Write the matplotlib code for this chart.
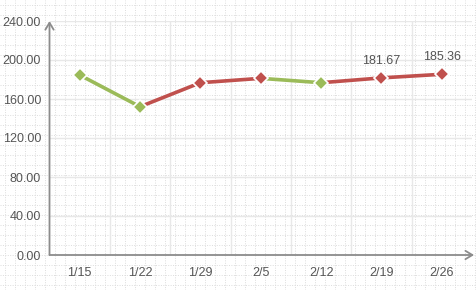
import numpy as np
import matplotlib.pyplot as plt

# datos
fechas = ["1/15", "1/22", "1/29", "2/5", "2/12", "2/19", "2/26"]
valores = [184.6, 152.1, 176.7, 181.2, 176.7, 181.67, 185.36]
etiquetas = {5: "181.67", 6: "185.36"}
yticks = [0, 40, 80, 120, 160, 200, 240]

verde = "#9BBB59"
rojo = "#C0504D"
gris_txt = "#555555"
gris_eje = "#8c8c8c"

fig = plt.figure(figsize=(4.76, 2.90), dpi=100)

# fondo con cuadricula punteada
fondo = fig.add_axes([0, 0, 1, 1], zorder=0)
fondo.set_xlim(0, 476)
fondo.set_ylim(290, 0)
fondo.axis("off")
for p in np.arange(5, 476, 10):
    fondo.axvline(p, color="#dcdcdc", lw=0.7, ls=(0, (1, 1.5)))
for p in np.arange(5, 290, 10):
    fondo.axhline(p, color="#dcdcdc", lw=0.7, ls=(0, (1, 1.5)))

ax = fig.add_axes([49.5 / 476, 35 / 290, (472 - 49.5) / 476, 234 / 290], zorder=1)
ax.patch.set_alpha(0)

x = np.arange(len(fechas))
ax.set_xlim(-0.5, len(fechas) - 0.5)
ax.set_ylim(0, 240)

# lineas de cuadricula solidas
for yt in yticks:
    ax.axhline(yt, color="#e8e8e8", lw=1, zorder=0)
for b in np.arange(0.5, len(fechas) - 0.5, 1):
    ax.axvline(b, color="#e8e8e8", lw=1, zorder=0)

# segmentos coloreados segun suba o baje
colores_pt = [verde]
for i in range(len(valores) - 1):
    c = rojo if valores[i + 1] >= valores[i] else verde
    colores_pt.append(c)
    ax.plot(x[i:i + 2], valores[i:i + 2], color=c, lw=2.6, solid_capstyle="butt", zorder=2)

for i in range(len(valores)):
    ax.plot(x[i], valores[i], marker="D", ms=6.8, color=colores_pt[i],
            mec="white", mew=1.2, zorder=3)

for i, t in etiquetas.items():
    ax.annotate(t, (x[i], valores[i]), xytext=(0, 8), textcoords="offset points",
                ha="center", va="bottom", fontsize=9, color=gris_txt,
                family="Liberation Sans")

ax.set_xticks(x)
ax.set_xticklabels(fechas)
ax.set_yticks(yticks)
ax.set_yticklabels([f"{v:.2f}" for v in yticks])
ax.tick_params(length=0, labelsize=9, colors=gris_txt)
ax.tick_params(axis="y", pad=6)
ax.tick_params(axis="x", pad=9)
for lab in ax.get_xticklabels() + ax.get_yticklabels():
    lab.set_family("Liberation Sans")

for s in ax.spines.values():
    s.set_visible(False)

# ejes con flecha
ax.annotate("", xy=(0, 1.0), xytext=(0, 0), xycoords="axes fraction",
            arrowprops=dict(arrowstyle="->,head_length=0.5,head_width=0.3",
                            color=gris_eje, lw=1.3, shrinkA=0, shrinkB=0))
ax.annotate("", xy=(1.005, 0), xytext=(0, 0), xycoords="axes fraction",
            arrowprops=dict(arrowstyle="->,head_length=0.5,head_width=0.3",
                            color=gris_eje, lw=1.3, shrinkA=0, shrinkB=0))

plt.savefig("out.png", dpi=100)
